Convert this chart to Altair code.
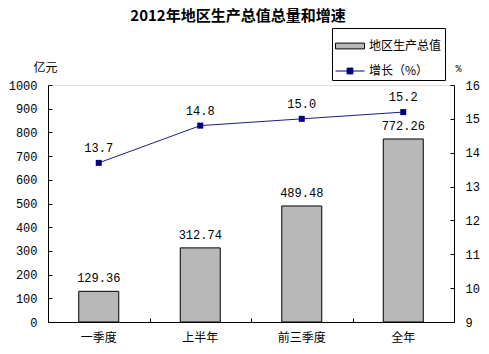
import altair as alt
import pandas as pd

categories = ["一季度", "上半年", "前三季度", "全年"]
gdp = [129.36, 312.74, 489.48, 772.26]
growth = [13.7, 14.8, 15.0, 15.2]
series_names = ["地区生产总值", "增长（%）"]
left_ticks = [0, 100, 200, 300, 400, 500, 600, 700, 800, 900, 1000]
right_ticks = [9, 10, 11, 12, 13, 14, 15, 16]

df = pd.DataFrame({"cat": categories, "gdp": gdp, "growth": growth})
legend_df = pd.DataFrame({"series": series_names, "cat": categories[:2], "gdp": gdp[:2]})

NUM_FONT = "Liberation Mono"
CJK = "Noto Sans CJK SC"
xscale = alt.Scale(domain=categories, paddingInner=0, paddingOuter=0)
lscale = alt.Scale(domain=[0, 1000])
rscale = alt.Scale(domain=[9, 16])

# main axes: labels + domain line, no ticks
x_main = alt.X("cat:N", sort=categories, title=None, scale=xscale,
               axis=alt.Axis(orient="bottom", labelAngle=0, ticks=False, labelPadding=10,
                             labelFont=CJK, labelFontSize=12, labelColor="black",
                             domainColor="black"))
# tick-only axes moved inward so the ticks point into the plot
x_ticks = alt.X("cat:N", sort=categories, title=None, scale=xscale,
                axis=alt.Axis(orient="bottom", tickBand="extent", tickSize=4, offset=-4,
                              labels=False, domain=False, tickColor="black"))
x_none = alt.X("cat:N", sort=categories, title=None, scale=xscale, axis=None)

y_left_main = alt.Y("gdp:Q", scale=lscale,
                    axis=alt.Axis(orient="left", values=left_ticks, format="d", labelOverlap=False,
                                  title="亿元", titleAngle=0, titleX=-3, titleY=-18,
                                  titleAlign="center", titleBaseline="middle",
                                  titleFont=CJK, titleFontSize=12, titleFontWeight="normal",
                                  labelFont=NUM_FONT, labelFontSize=12, labelColor="black",
                                  ticks=False, labelPadding=11, grid=False, domainColor="black"))
y_left_ticks = alt.Y("gdp:Q", scale=lscale,
                     axis=alt.Axis(orient="left", values=left_ticks, title=None, labels=False,
                                   domain=False, grid=False, tickSize=4, offset=-4,
                                   tickColor="black"))
y_left_none = alt.Y("gdp:Q", scale=lscale, axis=None)

y_right_main = alt.Y("growth:Q", scale=rscale,
                     axis=alt.Axis(orient="right", values=right_ticks, format="d", labelOverlap=False,
                                   title="%", titleAngle=0, titleX=4, titleY=-17,
                                   titleAlign="center", titleBaseline="middle",
                                   titleFont=NUM_FONT, titleFontSize=10, titleFontWeight="normal",
                                   labelFont=NUM_FONT, labelFontSize=12, labelColor="black",
                                   ticks=False, labelPadding=11, grid=False, domainColor="black"))
y_right_ticks = alt.Y("growth:Q", scale=rscale,
                      axis=alt.Axis(orient="right", values=right_ticks, title=None, labels=False,
                                    domain=False, grid=False, tickSize=4, offset=-4,
                                    tickColor="black"))
y_right_none = alt.Y("growth:Q", scale=rscale, axis=None)

bars = alt.Chart(df).mark_bar(size=40, stroke="black", strokeWidth=1, fill="#b8b8b8").encode(
    x=x_main, y=y_left_main)

bar_text = alt.Chart(df).mark_text(dy=-13, font=NUM_FONT, fontSize=12, color="black").encode(
    x=x_ticks, y=y_left_ticks, text=alt.Text("gdp:Q", format=".2f"))

leg = dict(title=None, orient="none", legendX=284, legendY=-57,
           strokeColor="black", fillColor="white", padding=3,
           rowPadding=4, symbolSize=841, labelFont=CJK,
           labelFontSize=12, labelColor="black", labelOffset=4,
           symbolStrokeWidth=1, symbolOpacity=1)

legend_layer = alt.Chart(legend_df).transform_filter("false").mark_point(
    filled=True, strokeWidth=1).encode(
    x=x_none, y=y_left_none,
    color=alt.Color("series:N", scale=alt.Scale(domain=series_names, range=["#b8b8b8", "#000080"]),
                    legend=alt.Legend(**leg)),
    shape=alt.Shape("series:N", scale=alt.Scale(domain=series_names,
                    range=["M-1,-0.2H1V0.2H-1Z", "M-1,0H1M-0.2,-0.2H0.2V0.2H-0.2Z"]),
                    legend=alt.Legend(**leg)),
    stroke=alt.Stroke("series:N", scale=alt.Scale(domain=series_names, range=["#000000", "#000080"]),
                      legend=alt.Legend(**leg)),
)

line = alt.Chart(df).mark_line(color="#1f1f7a", strokeWidth=1).encode(
    x=x_none, y=y_right_main)
pts = alt.Chart(df).mark_point(shape="square", filled=True, size=36, color="#000080", opacity=1).encode(
    x=x_none, y=y_right_ticks)
line_text = alt.Chart(df).mark_text(dy=-15, font=NUM_FONT, fontSize=12, color="black").encode(
    x=x_none, y=y_right_none, text=alt.Text("growth:Q", format=".1f"))

chart = alt.layer(bars, bar_text, legend_layer, line, pts, line_text).resolve_scale(
    y="independent").resolve_axis(x="independent", y="independent").properties(
    width=406, height=237,
    padding={"left": 48, "top": 85, "right": 35, "bottom": 32},
    autosize="none",
    title=alt.TitleParams("2012年地区生产总值总量和增速", font=CJK, fontSize=15,
                          fontWeight="bold", color="black", anchor="middle", dx=-13),
).configure_view(stroke=None).configure(background="white")

chart.save("out.html", embed_options={"renderer": "svg", "actions": False})
